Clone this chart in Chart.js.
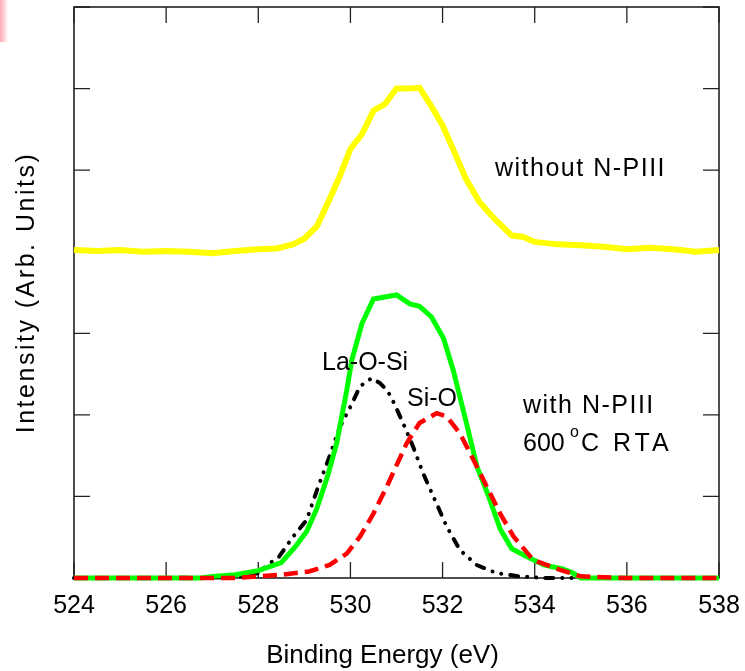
<!DOCTYPE html>
<html>
<head>
<meta charset="utf-8">
<script src="https://cdn.jsdelivr.net/npm/chart.js@4.4.1/dist/chart.umd.min.js"></script>
<style>
  html, body { margin: 0; padding: 0; background: #fff; }
  #wrap { position: relative; width: 745px; height: 671px; }
  #pink { position: absolute; left: 0; top: 0; width: 7px; height: 42px;
          background: linear-gradient(to right, rgba(255,160,170,0.9), rgba(255,220,225,0.5)); }
</style>
</head>
<body>
<div id="wrap">
  <canvas id="c" width="745" height="671"></canvas>
  <div id="pink"></div>
</div>
<script>
// ---- Data ----
const xTicks = [524, 526, 528, 530, 532, 534, 536, 538];

const withoutE = [524, 524.5, 525, 525.5, 526, 526.5, 527, 527.5, 528, 528.4, 528.75, 529.0, 529.27, 529.52, 529.75, 530.0, 530.25, 530.5, 530.75, 531.0, 531.25, 531.5, 531.75, 532.0, 532.25, 532.5, 532.8, 533.15, 533.5, 533.75, 534.0, 534.5, 535.0, 535.5, 536.0, 536.5, 537.0, 537.5, 538.0];
const withoutI = [4.02, 4.01, 4.02, 4.0, 4.01, 4.0, 3.98, 4.01, 4.03, 4.04, 4.09, 4.16, 4.31, 4.61, 4.90, 5.26, 5.44, 5.73, 5.81, 6.0, 6.0, 6.01, 5.79, 5.55, 5.23, 4.9, 4.61, 4.39, 4.2, 4.18, 4.12, 4.09, 4.08, 4.06, 4.03, 4.05, 4.03, 4.0, 4.02];

const withE = [524, 525, 526, 526.75, 527.0, 527.5, 528.0, 528.5, 528.8, 529.05, 529.27, 529.5, 529.7, 529.92, 530.03, 530.25, 530.5, 531.0, 531.29, 531.5, 531.76, 532.02, 532.23, 532.5, 532.75, 533.0, 533.25, 533.5, 533.8, 534.2, 534.6, 534.8, 535.0, 536, 537, 538];
const withI = [0, 0, 0, 0, 0.02, 0.04, 0.09, 0.19, 0.38, 0.57, 0.85, 1.24, 1.65, 2.3, 2.67, 3.12, 3.42, 3.47, 3.36, 3.33, 3.2, 2.94, 2.55, 1.94, 1.36, 1.0, 0.6, 0.36, 0.27, 0.16, 0.11, 0.07, 0.0, 0, 0, 0];

const laosiE = [524, 526, 527.5, 528.0, 528.2, 528.45, 528.76, 529.05, 529.3, 529.52, 529.77, 530.0, 530.21, 530.46, 530.64, 530.8, 530.95, 531.18, 531.36, 531.58, 531.8, 532.09, 532.38, 532.74, 533.17, 533.68, 534.2, 535, 536, 538];
const laosiI = [0, 0, 0.01, 0.06, 0.16, 0.26, 0.51, 0.71, 1.12, 1.45, 1.85, 2.1, 2.35, 2.45, 2.39, 2.3, 2.14, 1.85, 1.61, 1.28, 1.0, 0.63, 0.34, 0.16, 0.06, 0.02, 0.0, 0, 0, 0];

const sioE = [524, 526, 527.5, 528.5, 529.1, 529.55, 529.92, 530.21, 530.5, 530.79, 531.0, 531.22, 531.5, 531.87, 532.09, 532.38, 532.67, 532.96, 533.25, 533.54, 533.97, 534.55, 535.0, 536, 538];
const sioI = [0, 0, 0, 0.04, 0.08, 0.16, 0.3, 0.51, 0.79, 1.12, 1.38, 1.65, 1.9, 2.02, 1.98, 1.77, 1.45, 1.12, 0.79, 0.51, 0.22, 0.1, 0.02, 0, 0];

const xTitle = 'Binding Energy (eV)';
const yTitle = 'Intensity (Arb. Units)';

// ---- helpers ----
const pts = (xs, ys) => xs.map((x, i) => ({ x: x, y: ys[i] }));
const FONT = '"Liberation Sans", Arial, Helvetica, sans-serif';

function wrapTitle(scale, fn) {
  if (!scale || scale._wrapped) return;
  const orig = scale.drawTitle;
  scale.drawTitle = function () {
    const c = this.ctx;
    c.save();
    fn(c);
    orig.apply(this, arguments);
    c.restore();
  };
  scale._wrapped = true;
}

const framePlugin = {
  id: 'frame',
  beforeDraw(chart) {
    wrapTitle(chart.scales.y, c => { c.letterSpacing = '2.5px'; });
    wrapTitle(chart.scales.x, c => { c.translate(-14, 0); });
  },
  beforeDatasetsDraw(chart) {
    const { ctx, chartArea: a, scales } = chart;
    ctx.save();
    ctx.strokeStyle = '#222';
    ctx.lineWidth = 1.6;
    ctx.strokeRect(a.left, a.top, a.right - a.left, a.bottom - a.top);
    ctx.lineWidth = 1.3;
    ctx.beginPath();
    const tl = 16;
    scales.x.ticks.forEach(t => {
      const px = scales.x.getPixelForValue(t.value);
      ctx.moveTo(px, a.bottom); ctx.lineTo(px, a.bottom - tl);
      ctx.moveTo(px, a.top); ctx.lineTo(px, a.top + tl);
    });
    scales.y.ticks.forEach(t => {
      const py = scales.y.getPixelForValue(t.value);
      ctx.moveTo(a.left, py); ctx.lineTo(a.left + tl, py);
      ctx.moveTo(a.right, py); ctx.lineTo(a.right - tl, py);
    });
    ctx.stroke();
    ctx.restore();
  },
  afterDraw(chart) {
    const { ctx } = chart;
    ctx.save();
    ctx.fillStyle = '#000';
    ctx.textBaseline = 'alphabetic';
    ctx.textAlign = 'left';
    ctx.font = '25px ' + FONT;
    ctx.letterSpacing = '1.5px';
    ctx.fillText('without N-PIII', 495, 176);
    ctx.fillText('with N-PIII', 523, 413);
    ctx.letterSpacing = '0px';
    ctx.fillText('600', 523, 451);
    ctx.font = '16px ' + FONT;
    ctx.fillText('o', 570, 437);
    ctx.font = '25px ' + FONT;
    ctx.fillText('C', 581, 451);
    ctx.letterSpacing = '4px';
    ctx.fillText('RTA', 613, 451);
    ctx.letterSpacing = '0px';
    ctx.fillText('La-O-Si', 322, 370);
    ctx.fillText('Si-O', 407, 406);
    ctx.restore();
  }
};

new Chart(document.getElementById('c'), {
  type: 'line',
  data: {
    datasets: [
      { label: 'Si-O', data: pts(sioE, sioI), borderColor: '#ff0000', borderWidth: 4.5, borderDash: [14, 7], borderCapStyle: 'butt', pointRadius: 0, tension: 0, fill: false, clip: false },
      { label: 'with N-PIII 600 °C RTA', data: pts(withE, withI), borderColor: '#00ff00', borderWidth: 5, pointRadius: 0, tension: 0, fill: false, clip: false },
      { label: 'La-O-Si', data: pts(laosiE, laosiI), borderColor: '#000000', borderWidth: 4, borderDash: [8, 9, 0.1, 9, 0.1, 9], borderCapStyle: 'round', pointRadius: 0, tension: 0, fill: false, clip: false },
      { label: 'without N-PIII', data: pts(withoutE, withoutI), borderColor: '#ffff00', borderWidth: 6, pointRadius: 0, tension: 0, fill: false, clip: false }
    ]
  },
  options: {
    responsive: false,
    animation: false,
    devicePixelRatio: 1,
    layout: { padding: { left: 0, right: 26, top: 7, bottom: 0 } },
    plugins: { legend: { display: false }, tooltip: { enabled: false } },
    scales: {
      x: {
        type: 'linear', min: 524, max: 538,
        afterBuildTicks: (s) => { s.ticks = xTicks.map(v => ({ value: v })); },
        ticks: { color: '#000', font: { family: FONT, size: 25 }, padding: 13, maxRotation: 0 },
        grid: { display: false, drawTicks: false },
        border: { display: false },
        title: { display: true, text: xTitle, color: '#000', font: { family: FONT, size: 26 }, padding: { top: 0, bottom: 0 } },
        afterFit: (s) => { s.height = 93; s.paddingLeft = 0; s.paddingRight = 0; }
      },
      y: {
        type: 'linear', min: 0, max: 7,
        ticks: { display: false, stepSize: 1 },
        grid: { display: false, drawTicks: false },
        border: { display: false },
        title: { display: true, text: yTitle, color: '#000', font: { family: FONT, size: 25 }, padding: { top: 12, bottom: 0 } },
        afterFit: (s) => { s.width = 74; s.paddingTop = 0; s.paddingBottom = 0; }
      }
    }
  },
  plugins: [framePlugin]
});
</script>
</body>
</html>
